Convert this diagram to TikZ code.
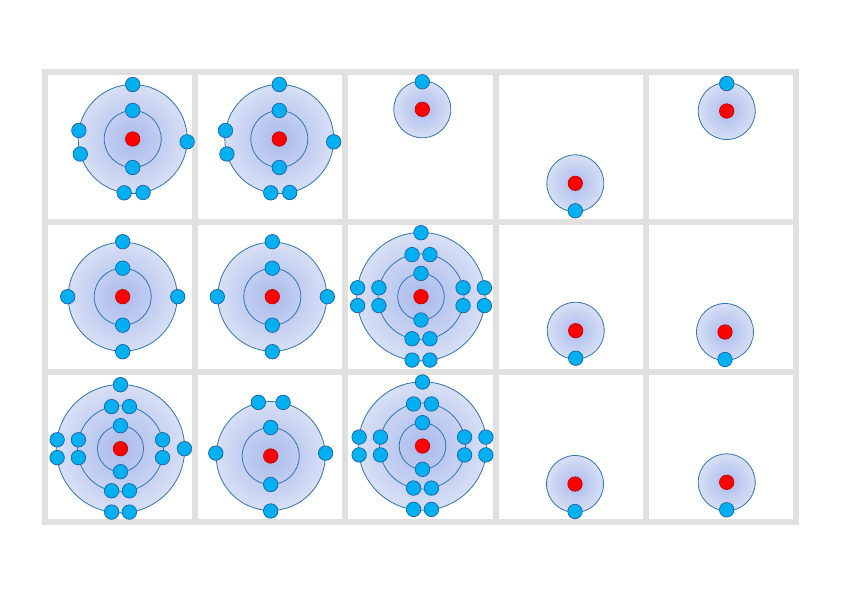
\documentclass[tikz,border=0pt]{standalone}
\usepackage{tikz}
\definecolor{gridgray}{RGB}{224,224,224}
\definecolor{shellin}{RGB}{170,186,236}
\definecolor{shellout}{RGB}{221,228,246}
\definecolor{shellline}{RGB}{46,117,182}
\definecolor{elfill}{RGB}{0,176,240}
\definecolor{elline}{RGB}{31,96,170}
\definecolor{nucline}{RGB}{190,0,0}
\pgfdeclareradialshading{shellshade}{\pgfpoint{0bp}{0bp}}{color(0bp)=(shellin); color(28bp)=(shellout); color(50bp)=(shellout)}
\tikzset{shell node/.style={circle,draw=shellline,line width=0.8pt,shading=shellshade,inner sep=0pt,minimum size=#1},
  ring node/.style={circle,draw=shellline,line width=0.8pt,inner sep=0pt,minimum size=#1},
  nucleus node/.style={circle,fill=red,draw=nucline,line width=0.6pt,minimum size=14.5pt,inner sep=0pt},
  electron node/.style={circle,fill=elfill,draw=elline,line width=0.7pt,minimum size=14.5pt,inner sep=0pt},
  grid line/.style={gridgray,line width=6pt}}

\begin{document}
\begin{tikzpicture}[x=1pt,y=1pt]
\useasboundingbox (0,0) rectangle (842,595);
% table
\draw[grid line] (45,73) rectangle (796,522.5);
\foreach \i in {1,...,4} \draw[grid line] (45+150.2*\i,73) -- (45+150.2*\i,522.5);
\foreach \j in {1,2} \draw[grid line] (45,73+149.83*\j) -- (796,73+149.83*\j);

% first row
\coordinate (O1) at (132.7,456);
\node[shell node=109pt] (O1s2) at (O1) {};
\node[ring node=57pt] (O1s1) at (O1) {};
\node[nucleus node] (O1n) at (O1) {};
\foreach \a in {90,270} \path (O1) ++(\a:28.5) node[electron node] (O1i\a) {};
\foreach \a in {90,171,196,357,261,281} \path (O1) ++(\a:54.5) node[electron node] (O1o\a) {};

\coordinate (O2) at (279.3,456);
\node[shell node=109pt] (O2s2) at (O2) {};
\node[ring node=57pt] (O2s1) at (O2) {};
\node[nucleus node] (O2n) at (O2) {};
\foreach \a in {90,270} \path (O2) ++(\a:28.5) node[electron node] (O2i\a) {};
\foreach \a in {90,171,196,357,261,281} \path (O2) ++(\a:54.5) node[electron node] (O2o\a) {};

\coordinate (H1) at (422.3,485.7);
\node[shell node=57pt] (H1s1) at (H1) {};
\node[nucleus node] (H1n) at (H1) {};
\path (H1) ++(90:27.5) node[electron node] (H1e) {};

\coordinate (H2) at (575.3,411.7);
\node[shell node=57pt] (H2s1) at (H2) {};
\node[nucleus node] (H2n) at (H2) {};
\path (H2) ++(270:27.5) node[electron node] (H2e) {};

\coordinate (H3) at (726.7,484);
\node[shell node=57pt] (H3s1) at (H3) {};
\node[nucleus node] (H3n) at (H3) {};
\path (H3) ++(90:27.5) node[electron node] (H3e) {};

% second row
\coordinate (C1) at (122.7,298.3);
\node[shell node=109pt] (C1s2) at (C1) {};
\node[ring node=57pt] (C1s1) at (C1) {};
\node[nucleus node] (C1n) at (C1) {};
\foreach \a in {90,270} \path (C1) ++(\a:28.5) node[electron node] (C1i\a) {};
\foreach \a in {0,90,180,270} \path (C1) ++(\a:55) node[electron node] (C1o\a) {};

\coordinate (C2) at (272.3,298.3);
\node[shell node=109pt] (C2s2) at (C2) {};
\node[ring node=57pt] (C2s1) at (C2) {};
\node[nucleus node] (C2n) at (C2) {};
\foreach \a in {90,270} \path (C2) ++(\a:28.5) node[electron node] (C2i\a) {};
\foreach \a in {0,90,180,270} \path (C2) ++(\a:55) node[electron node] (C2o\a) {};

\coordinate (Cl1) at (421,298.3);
\node[shell node=128.4pt] (Cl1s3) at (Cl1) {};
\node[ring node=86pt] (Cl1s2) at (Cl1) {};
\node[ring node=46.6pt] (Cl1s1) at (Cl1) {};
\node[nucleus node] (Cl1n) at (Cl1) {};
\foreach \a in {90,270} \path (Cl1) ++(\a:23.3) node[electron node] (Cl1i\a) {};
\foreach \a in {78,102,168,192,258,282,348,12} \path (Cl1) ++(\a:43) node[electron node] (Cl1m\a) {};
\foreach \a in {90,172,188,262,278,352,8} \path (Cl1) ++(\a:64) node[electron node] (Cl1o\a) {};

\coordinate (H4) at (575.7,264.3);
\node[shell node=57pt] (H4s1) at (H4) {};
\node[nucleus node] (H4n) at (H4) {};
\path (H4) ++(270:27.5) node[electron node] (H4e) {};

\coordinate (H5) at (725,263);
\node[shell node=57pt] (H5s1) at (H5) {};
\node[nucleus node] (H5n) at (H5) {};
\path (H5) ++(270:27.5) node[electron node] (H5e) {};

% third row
\coordinate (S1) at (120.5,146.3);
\node[shell node=128.4pt] (S1s3) at (S1) {};
\node[ring node=86pt] (S1s2) at (S1) {};
\node[ring node=46pt] (S1s1) at (S1) {};
\node[nucleus node] (S1n) at (S1) {};
\foreach \a in {90,270} \path (S1) ++(\a:23) node[electron node] (S1i\a) {};
\foreach \a in {78,102,168,192,258,282,348,12} \path (S1) ++(\a:43) node[electron node] (S1m\a) {};
\foreach \a in {90,172,188,262,278,0} \path (S1) ++(\a:64) node[electron node] (S1o\a) {};

\coordinate (N1) at (270.7,139);
\node[shell node=109pt] (N1s2) at (N1) {};
\node[ring node=57pt] (N1s1) at (N1) {};
\node[nucleus node] (N1n) at (N1) {};
\foreach \a in {90,270} \path (N1) ++(\a:28.5) node[electron node] (N1i\a) {};
\foreach \a in {77,103,177,3,270} \path (N1) ++(\a:55) node[electron node] (N1o\a) {};

\coordinate (Cl2) at (422.5,149);
\node[shell node=128.4pt] (Cl2s3) at (Cl2) {};
\node[ring node=86pt] (Cl2s2) at (Cl2) {};
\node[ring node=46.6pt] (Cl2s1) at (Cl2) {};
\node[nucleus node] (Cl2n) at (Cl2) {};
\foreach \a in {90,270} \path (Cl2) ++(\a:23.3) node[electron node] (Cl2i\a) {};
\foreach \a in {78,102,168,192,258,282,348,12} \path (Cl2) ++(\a:43) node[electron node] (Cl2m\a) {};
\foreach \a in {90,172,188,262,278,352,8} \path (Cl2) ++(\a:64) node[electron node] (Cl2o\a) {};

\coordinate (H6) at (575,111);
\node[shell node=57pt] (H6s1) at (H6) {};
\node[nucleus node] (H6n) at (H6) {};
\path (H6) ++(270:27.5) node[electron node] (H6e) {};

\coordinate (H7) at (726.7,112.7);
\node[shell node=57pt] (H7s1) at (H7) {};
\node[nucleus node] (H7n) at (H7) {};
\path (H7) ++(270:27.5) node[electron node] (H7e) {};
\end{tikzpicture}
\end{document}
